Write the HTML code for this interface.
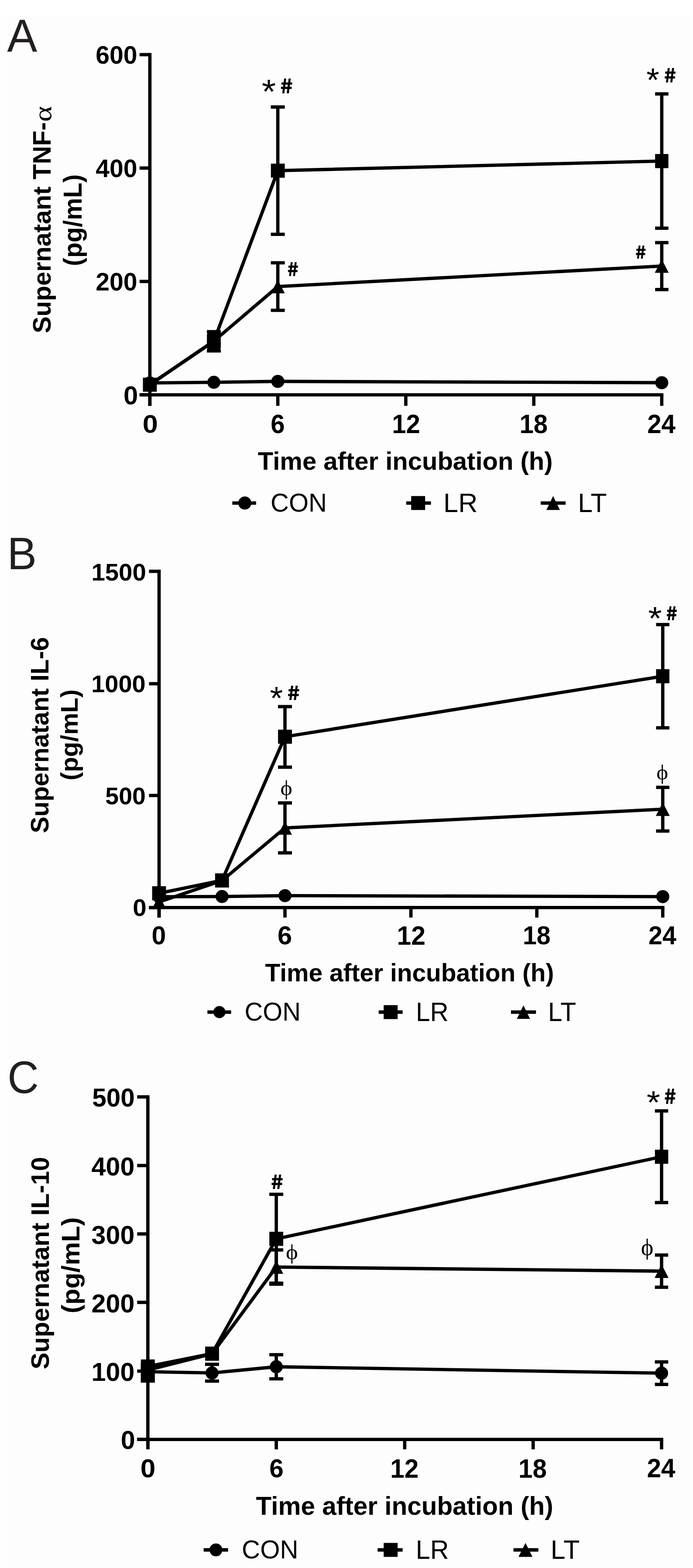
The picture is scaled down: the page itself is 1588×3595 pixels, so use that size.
<!DOCTYPE html>
<html><head><meta charset="utf-8"><title>Figure</title>
<style>html,body{margin:0;padding:0;background:#fff;}svg{display:block;}</style>
</head><body>
<svg width="1588" height="3595" viewBox="0 0 1588 3595">
<rect x="0" y="0" width="1588" height="3595" fill="#ffffff"/>
<rect x="16" y="36" width="1570" height="3559" fill="#fdfdfd"/>
<g stroke="#000" fill="#000" stroke-linecap="butt">
<line x1="343.4" y1="121.5" x2="343.4" y2="930.5" stroke-width="7.6"/>
<line x1="319.8" y1="125.3" x2="343.4" y2="125.3" stroke-width="7.6"/>
<line x1="319.8" y1="385.3" x2="343.4" y2="385.3" stroke-width="7.6"/>
<line x1="319.8" y1="645.3" x2="343.4" y2="645.3" stroke-width="7.6"/>
<line x1="319.8" y1="905.3" x2="343.4" y2="905.3" stroke-width="7.6"/>
<line x1="319.8" y1="905.3" x2="1520.2" y2="905.3" stroke-width="7.6"/>
<line x1="343.4" y1="905.3" x2="343.4" y2="930.5" stroke-width="7.6"/>
<line x1="636.6" y1="905.3" x2="636.6" y2="930.5" stroke-width="7.6"/>
<line x1="929.9" y1="905.3" x2="929.9" y2="930.5" stroke-width="7.6"/>
<line x1="1223.2" y1="905.3" x2="1223.2" y2="930.5" stroke-width="7.6"/>
<line x1="1516.4" y1="905.3" x2="1516.4" y2="930.5" stroke-width="7.6"/>
<polyline points="343.4,878.0 490.0,876.5 636.6,874.4 1516.4,877.4" fill="none" stroke-width="7.6" stroke-linejoin="miter"/>
<circle cx="343.4" cy="878.0" r="15.0" stroke="none"/>
<circle cx="490.0" cy="876.5" r="15.0" stroke="none"/>
<circle cx="636.6" cy="874.4" r="15.0" stroke="none"/>
<circle cx="1516.4" cy="877.4" r="15.0" stroke="none"/>
<polyline points="343.4,882.0 490.0,782.0 636.6,657.0 1516.4,610.0" fill="none" stroke-width="7.6" stroke-linejoin="miter"/>
<line x1="636.6" y1="602.5" x2="636.6" y2="711.5" stroke-width="7.6"/>
<line x1="620.6" y1="602.5" x2="652.6" y2="602.5" stroke-width="7.6"/>
<line x1="620.6" y1="711.5" x2="652.6" y2="711.5" stroke-width="7.6"/>
<line x1="1516.4" y1="556.3" x2="1516.4" y2="663.9" stroke-width="7.6"/>
<line x1="1501.2" y1="556.3" x2="1531.7" y2="556.3" stroke-width="7.6"/>
<line x1="1501.2" y1="663.9" x2="1531.7" y2="663.9" stroke-width="7.6"/>
<polygon points="343.4,866.5 359.4,897.5 327.4,897.5" stroke="none"/>
<polygon points="490.0,766.5 506.0,797.5 474.0,797.5" stroke="none"/>
<polygon points="636.6,641.5 652.6,672.5 620.6,672.5" stroke="none"/>
<polygon points="1516.4,594.5 1532.4,625.5 1500.4,625.5" stroke="none"/>
<polyline points="343.4,882.0 490.0,782.5 636.6,391.3 1516.4,369.3" fill="none" stroke-width="7.6" stroke-linejoin="miter"/>
<line x1="490.0" y1="760.5" x2="490.0" y2="804.5" stroke-width="7.6"/>
<line x1="474.0" y1="760.5" x2="506.0" y2="760.5" stroke-width="7.6"/>
<line x1="474.0" y1="804.5" x2="506.0" y2="804.5" stroke-width="7.6"/>
<line x1="636.6" y1="245.4" x2="636.6" y2="537.2" stroke-width="7.6"/>
<line x1="620.6" y1="245.4" x2="652.6" y2="245.4" stroke-width="7.6"/>
<line x1="620.6" y1="537.2" x2="652.6" y2="537.2" stroke-width="7.6"/>
<line x1="1516.4" y1="215.3" x2="1516.4" y2="523.2" stroke-width="7.6"/>
<line x1="1501.2" y1="215.3" x2="1531.7" y2="215.3" stroke-width="7.6"/>
<line x1="1501.2" y1="523.2" x2="1531.7" y2="523.2" stroke-width="7.6"/>
<rect x="327.50" y="865.85" width="31.8" height="32.3" stroke="none"/>
<rect x="474.12" y="766.35" width="31.8" height="32.3" stroke="none"/>
<rect x="620.75" y="375.15" width="31.8" height="32.3" stroke="none"/>
<rect x="1501.15" y="353.15" width="30.5" height="32.3" stroke="none"/>
<rect x="475" y="757" width="30" height="51" stroke="none"/>
<line x1="532.3" y1="1153.3" x2="586.9" y2="1153.3" stroke-width="7.8"/>
<circle cx="561.0" cy="1153.3" r="15.0" stroke="none"/>
<line x1="930.9" y1="1153.3" x2="987.5" y2="1153.3" stroke-width="7.8"/>
<rect x="942.20" y="1137.30" width="32" height="32" stroke="none"/>
<line x1="1239.0" y1="1153.3" x2="1296.1" y2="1153.3" stroke-width="7.8"/>
<polygon points="1267.5,1137.3 1283.0,1169.3 1252.0,1169.3" stroke="none"/>
<line x1="364.5" y1="1306.1" x2="364.5" y2="2103.7" stroke-width="7.6"/>
<line x1="341.5" y1="1309.9" x2="364.5" y2="1309.9" stroke-width="7.6"/>
<line x1="341.5" y1="1567.6" x2="364.5" y2="1567.6" stroke-width="7.6"/>
<line x1="341.5" y1="1823.8" x2="364.5" y2="1823.8" stroke-width="7.6"/>
<line x1="341.5" y1="2080.8" x2="364.5" y2="2080.8" stroke-width="7.6"/>
<line x1="341.5" y1="2080.8" x2="1522.5" y2="2080.8" stroke-width="7.6"/>
<line x1="364.5" y1="2080.8" x2="364.5" y2="2103.7" stroke-width="7.6"/>
<line x1="653.0" y1="2080.8" x2="653.0" y2="2103.7" stroke-width="7.6"/>
<line x1="941.6" y1="2080.8" x2="941.6" y2="2103.7" stroke-width="7.6"/>
<line x1="1230.1" y1="2080.8" x2="1230.1" y2="2103.7" stroke-width="7.6"/>
<line x1="1518.7" y1="2080.8" x2="1518.7" y2="2103.7" stroke-width="7.6"/>
<polyline points="364.5,2056.0 508.8,2055.5 653.0,2053.5 1518.7,2055.7" fill="none" stroke-width="7.6" stroke-linejoin="miter"/>
<circle cx="364.5" cy="2056.0" r="15.0" stroke="none"/>
<circle cx="508.8" cy="2055.5" r="15.0" stroke="none"/>
<circle cx="653.0" cy="2053.5" r="15.0" stroke="none"/>
<circle cx="1518.7" cy="2055.7" r="15.0" stroke="none"/>
<polyline points="364.5,2068.0 508.8,2019.0 653.0,1898.2 1518.7,1855.3" fill="none" stroke-width="7.6" stroke-linejoin="miter"/>
<line x1="653.0" y1="1840.9" x2="653.0" y2="1955.4" stroke-width="7.6"/>
<line x1="637.0" y1="1840.9" x2="669.0" y2="1840.9" stroke-width="7.6"/>
<line x1="637.0" y1="1955.4" x2="669.0" y2="1955.4" stroke-width="7.6"/>
<line x1="1518.7" y1="1805.2" x2="1518.7" y2="1905.3" stroke-width="7.6"/>
<line x1="1503.4" y1="1805.2" x2="1533.9" y2="1805.2" stroke-width="7.6"/>
<line x1="1503.4" y1="1905.3" x2="1533.9" y2="1905.3" stroke-width="7.6"/>
<polygon points="364.5,2052.5 380.5,2083.5 348.5,2083.5" stroke="none"/>
<polygon points="508.8,2003.5 524.8,2034.5 492.8,2034.5" stroke="none"/>
<polygon points="653.0,1882.7 669.0,1913.7 637.0,1913.7" stroke="none"/>
<polygon points="1518.7,1839.8 1534.7,1870.8 1502.7,1870.8" stroke="none"/>
<polyline points="364.5,2048.0 508.8,2018.5 653.0,1689.1 1518.7,1550.4" fill="none" stroke-width="7.6" stroke-linejoin="miter"/>
<line x1="653.0" y1="1620.1" x2="653.0" y2="1758.9" stroke-width="7.6"/>
<line x1="637.0" y1="1620.1" x2="669.0" y2="1620.1" stroke-width="7.6"/>
<line x1="637.0" y1="1758.9" x2="669.0" y2="1758.9" stroke-width="7.6"/>
<line x1="1518.7" y1="1432.0" x2="1518.7" y2="1668.7" stroke-width="7.6"/>
<line x1="1503.4" y1="1432.0" x2="1533.9" y2="1432.0" stroke-width="7.6"/>
<line x1="1503.4" y1="1668.7" x2="1533.9" y2="1668.7" stroke-width="7.6"/>
<rect x="348.60" y="2031.85" width="31.8" height="32.3" stroke="none"/>
<rect x="492.87" y="2002.35" width="31.8" height="32.3" stroke="none"/>
<rect x="637.14" y="1672.95" width="31.8" height="32.3" stroke="none"/>
<rect x="1503.41" y="1534.25" width="30.5" height="32.3" stroke="none"/>
<line x1="475.3" y1="2320.5" x2="529.6" y2="2320.5" stroke-width="7.8"/>
<circle cx="502.8" cy="2320.5" r="13.9" stroke="none"/>
<line x1="867.7" y1="2320.5" x2="922.6" y2="2320.5" stroke-width="7.8"/>
<rect x="879.20" y="2304.50" width="32" height="32" stroke="none"/>
<line x1="1170.9" y1="2320.5" x2="1228.2" y2="2320.5" stroke-width="7.8"/>
<polygon points="1199.5,2305.0 1214.6,2336.0 1184.4,2336.0" stroke="none"/>
<line x1="338.8" y1="2511.1" x2="338.8" y2="3323.0" stroke-width="7.6"/>
<line x1="314.3" y1="2514.9" x2="338.8" y2="2514.9" stroke-width="7.6"/>
<line x1="314.3" y1="2672.3" x2="338.8" y2="2672.3" stroke-width="7.6"/>
<line x1="314.3" y1="2829.1" x2="338.8" y2="2829.1" stroke-width="7.6"/>
<line x1="314.3" y1="2986.0" x2="338.8" y2="2986.0" stroke-width="7.6"/>
<line x1="314.3" y1="3143.6" x2="338.8" y2="3143.6" stroke-width="7.6"/>
<line x1="314.3" y1="3300.2" x2="338.8" y2="3300.2" stroke-width="7.6"/>
<line x1="314.3" y1="3300.2" x2="1519.8" y2="3300.2" stroke-width="7.6"/>
<line x1="338.8" y1="3300.2" x2="338.8" y2="3323.0" stroke-width="7.6"/>
<line x1="633.1" y1="3300.2" x2="633.1" y2="3323.0" stroke-width="7.6"/>
<line x1="927.4" y1="3300.2" x2="927.4" y2="3323.0" stroke-width="7.6"/>
<line x1="1221.7" y1="3300.2" x2="1221.7" y2="3323.0" stroke-width="7.6"/>
<line x1="1516.0" y1="3300.2" x2="1516.0" y2="3323.0" stroke-width="7.6"/>
<polyline points="338.8,3145.0 485.9,3147.8 633.1,3133.6 1516.0,3148.3" fill="none" stroke-width="7.6" stroke-linejoin="miter"/>
<line x1="485.9" y1="3128.0" x2="485.9" y2="3166.5" stroke-width="7.6"/>
<line x1="469.9" y1="3128.0" x2="501.9" y2="3128.0" stroke-width="7.6"/>
<line x1="469.9" y1="3166.5" x2="501.9" y2="3166.5" stroke-width="7.6"/>
<line x1="633.1" y1="3106.0" x2="633.1" y2="3161.2" stroke-width="7.6"/>
<line x1="617.1" y1="3106.0" x2="649.1" y2="3106.0" stroke-width="7.6"/>
<line x1="617.1" y1="3161.2" x2="649.1" y2="3161.2" stroke-width="7.6"/>
<line x1="1516.0" y1="3122.5" x2="1516.0" y2="3174.1" stroke-width="7.6"/>
<line x1="1500.7" y1="3122.5" x2="1531.2" y2="3122.5" stroke-width="7.6"/>
<line x1="1500.7" y1="3174.1" x2="1531.2" y2="3174.1" stroke-width="7.6"/>
<circle cx="338.8" cy="3145.0" r="15.0" stroke="none"/>
<circle cx="485.9" cy="3147.8" r="15.0" stroke="none"/>
<circle cx="633.1" cy="3133.6" r="15.0" stroke="none"/>
<circle cx="1516.0" cy="3148.3" r="15.0" stroke="none"/>
<polyline points="338.8,3141.0 485.9,3104.0 633.1,2905.0 1516.0,2914.4" fill="none" stroke-width="7.6" stroke-linejoin="miter"/>
<line x1="633.1" y1="2865.7" x2="633.1" y2="2944.2" stroke-width="7.6"/>
<line x1="617.1" y1="2865.7" x2="649.1" y2="2865.7" stroke-width="7.6"/>
<line x1="617.1" y1="2944.2" x2="649.1" y2="2944.2" stroke-width="7.6"/>
<line x1="1516.0" y1="2877.5" x2="1516.0" y2="2951.3" stroke-width="7.6"/>
<line x1="1500.7" y1="2877.5" x2="1531.2" y2="2877.5" stroke-width="7.6"/>
<line x1="1500.7" y1="2951.3" x2="1531.2" y2="2951.3" stroke-width="7.6"/>
<polygon points="338.8,3125.5 354.8,3156.5 322.8,3156.5" stroke="none"/>
<polygon points="485.9,3088.5 501.9,3119.5 469.9,3119.5" stroke="none"/>
<polygon points="633.1,2889.5 649.1,2920.5 617.1,2920.5" stroke="none"/>
<polygon points="1516.0,2898.9 1532.0,2929.9 1500.0,2929.9" stroke="none"/>
<polyline points="338.8,3133.0 485.9,3103.5 633.1,2840.3 1516.0,2652.1" fill="none" stroke-width="7.6" stroke-linejoin="miter"/>
<line x1="633.1" y1="2738.2" x2="633.1" y2="2942.0" stroke-width="7.6"/>
<line x1="617.1" y1="2738.2" x2="649.1" y2="2738.2" stroke-width="7.6"/>
<line x1="617.1" y1="2942.0" x2="649.1" y2="2942.0" stroke-width="7.6"/>
<line x1="1516.0" y1="2547.0" x2="1516.0" y2="2757.2" stroke-width="7.6"/>
<line x1="1500.7" y1="2547.0" x2="1531.2" y2="2547.0" stroke-width="7.6"/>
<line x1="1500.7" y1="2757.2" x2="1531.2" y2="2757.2" stroke-width="7.6"/>
<rect x="322.90" y="3116.85" width="31.8" height="32.3" stroke="none"/>
<rect x="470.05" y="3087.35" width="31.8" height="32.3" stroke="none"/>
<rect x="617.20" y="2824.15" width="31.8" height="32.3" stroke="none"/>
<rect x="1500.75" y="2635.95" width="30.5" height="32.3" stroke="none"/>
<rect x="322.6" y="3124.1" width="32.2" height="46" stroke="none"/>
<line x1="466.7" y1="3553.5" x2="522.6" y2="3553.5" stroke-width="7.8"/>
<circle cx="494.8" cy="3553.5" r="14.8" stroke="none"/>
<line x1="865.3" y1="3553.5" x2="922.6" y2="3553.5" stroke-width="7.8"/>
<rect x="879.20" y="3537.50" width="32" height="32" stroke="none"/>
<line x1="1176.6" y1="3553.5" x2="1233.7" y2="3553.5" stroke-width="7.8"/>
<polygon points="1204.1,3537.5 1220.1,3569.5 1188.1,3569.5" stroke="none"/>
</g>
<text transform="translate(16.30,118.10) scale(1.0239,1.0551)" font-size="101" font-weight="normal" font-family='"Liberation Sans", Arial, sans-serif' fill="#231f20" >A</text>
<text transform="translate(16.60,1304.90) scale(1.0245,1.0471)" font-size="99" font-weight="normal" font-family='"Liberation Sans", Arial, sans-serif' fill="#231f20" >B</text>
<text transform="translate(17.19,2505.97) scale(0.9813,1.0282)" font-size="101" font-weight="normal" font-family='"Liberation Sans", Arial, sans-serif' fill="#231f20" >C</text>
<text transform="translate(219.26,146.43) scale(0.9691,0.9744)" font-size="59" font-weight="bold" font-family='"Liberation Sans", Arial, sans-serif' fill="#000" >600</text>
<text transform="translate(219.26,406.43) scale(0.9691,0.9744)" font-size="59" font-weight="bold" font-family='"Liberation Sans", Arial, sans-serif' fill="#000" >400</text>
<text transform="translate(219.26,666.43) scale(0.9691,0.9744)" font-size="59" font-weight="bold" font-family='"Liberation Sans", Arial, sans-serif' fill="#000" >200</text>
<text transform="translate(282.97,927.01) scale(1.0143,0.9884)" font-size="59" font-weight="bold" font-family='"Liberation Sans", Arial, sans-serif' fill="#000" >0</text>
<text transform="translate(326.86,991.74) scale(1.0714,0.9581)" font-size="59" font-weight="bold" font-family='"Liberation Sans", Arial, sans-serif' fill="#000" >0</text>
<text transform="translate(620.14,992.70) scale(0.9857,1.0238)" font-size="59" font-weight="bold" font-family='"Liberation Sans", Arial, sans-serif' fill="#000" >6</text>
<text transform="translate(898.23,992.70) scale(0.9857,1.0238)" font-size="59" font-weight="bold" font-family='"Liberation Sans", Arial, sans-serif' fill="#000" >12</text>
<text transform="translate(1190.49,992.70) scale(0.9857,1.0238)" font-size="59" font-weight="bold" font-family='"Liberation Sans", Arial, sans-serif' fill="#000" >18</text>
<text transform="translate(1483.13,992.70) scale(0.9857,1.0238)" font-size="59" font-weight="bold" font-family='"Liberation Sans", Arial, sans-serif' fill="#000" >24</text>
<text transform="translate(590.82,1077.15) scale(0.9835,0.9873)" font-size="59" font-weight="bold" font-family='"Liberation Sans", Arial, sans-serif' fill="#000" >Time after incubation (h)</text>
<text transform="translate(620.00,1173.00) scale(0.9680,1.0023)" font-size="60" font-weight="normal" font-family='"Liberation Sans", Arial, sans-serif' fill="#000" >CON</text>
<text transform="translate(1016.10,1174.00) scale(1.0203,1.0244)" font-size="60" font-weight="normal" font-family='"Liberation Sans", Arial, sans-serif' fill="#000" >LR</text>
<text transform="translate(1324.24,1174.00) scale(1.0119,1.0244)" font-size="60" font-weight="normal" font-family='"Liberation Sans", Arial, sans-serif' fill="#000" >LT</text>
<text transform="translate(116.43,764.02) rotate(-90) scale(1.0122,1.0057)" font-size="57" font-weight="bold" font-family='"Liberation Sans", Arial, sans-serif' fill="#000" >Supernatant TNF-</text>
<text transform="translate(116.69,279.32) rotate(-90) scale(1.2111,1.0148)" font-size="57" font-weight="normal" font-family='"Liberation Serif", "Times New Roman", serif' fill="#000" >α</text>
<text transform="translate(186.71,610.02) rotate(-90) scale(1.0069,1.0241)" font-size="57" font-weight="bold" font-family='"Liberation Sans", Arial, sans-serif' fill="#000" >(pg/mL)</text>
<text transform="translate(209.38,1330.85) scale(0.9560,0.9512)" font-size="59" font-weight="bold" font-family='"Liberation Sans", Arial, sans-serif' fill="#000" >1500</text>
<text transform="translate(209.21,1587.37) scale(0.9480,0.9302)" font-size="59" font-weight="bold" font-family='"Liberation Sans", Arial, sans-serif' fill="#000" >1000</text>
<text transform="translate(241.32,1844.45) scale(0.9394,0.9512)" font-size="59" font-weight="bold" font-family='"Liberation Sans", Arial, sans-serif' fill="#000" >500</text>
<text transform="translate(304.29,2099.57) scale(0.9571,0.9279)" font-size="59" font-weight="bold" font-family='"Liberation Sans", Arial, sans-serif' fill="#000" >0</text>
<text transform="translate(347.40,2164.80) scale(1.0000,1.0023)" font-size="59" font-weight="bold" font-family='"Liberation Sans", Arial, sans-serif' fill="#000" >0</text>
<text transform="translate(635.88,2164.80) scale(1.0103,1.0023)" font-size="59" font-weight="bold" font-family='"Liberation Sans", Arial, sans-serif' fill="#000" >6</text>
<text transform="translate(909.41,2165.80) scale(0.9983,1.0262)" font-size="59" font-weight="bold" font-family='"Liberation Sans", Arial, sans-serif' fill="#000" >12</text>
<text transform="translate(1198.02,2164.80) scale(0.9700,1.0023)" font-size="59" font-weight="bold" font-family='"Liberation Sans", Arial, sans-serif' fill="#000" >18</text>
<text transform="translate(1486.11,2164.80) scale(0.9700,1.0023)" font-size="59" font-weight="bold" font-family='"Liberation Sans", Arial, sans-serif' fill="#000" >24</text>
<text transform="translate(607.54,2249.86) scale(0.9633,0.9618)" font-size="59" font-weight="bold" font-family='"Liberation Sans", Arial, sans-serif' fill="#000" >Time after incubation (h)</text>
<text transform="translate(560.41,2339.91) scale(0.9648,0.9907)" font-size="60" font-weight="normal" font-family='"Liberation Sans", Arial, sans-serif' fill="#000" >CON</text>
<text transform="translate(952.92,2340.90) scale(0.9768,1.0098)" font-size="60" font-weight="normal" font-family='"Liberation Sans", Arial, sans-serif' fill="#000" >LR</text>
<text transform="translate(1255.79,2340.90) scale(0.9814,1.0098)" font-size="60" font-weight="normal" font-family='"Liberation Sans", Arial, sans-serif' fill="#000" >LT</text>
<text transform="translate(110.51,1910.30) rotate(-90) scale(0.9998,1.0075)" font-size="57" font-weight="bold" font-family='"Liberation Sans", Arial, sans-serif' fill="#000" >Supernatant IL-6</text>
<text transform="translate(178.42,1789.20) rotate(-90) scale(0.9990,0.9815)" font-size="57" font-weight="bold" font-family='"Liberation Sans", Arial, sans-serif' fill="#000" >(pg/mL)</text>
<text transform="translate(211.22,2536.99) scale(0.9904,1.0140)" font-size="59" font-weight="bold" font-family='"Liberation Sans", Arial, sans-serif' fill="#000" >500</text>
<text transform="translate(209.60,2695.00) scale(1.0032,1.0023)" font-size="59" font-weight="bold" font-family='"Liberation Sans", Arial, sans-serif' fill="#000" >400</text>
<text transform="translate(209.60,2851.80) scale(1.0032,1.0023)" font-size="59" font-weight="bold" font-family='"Liberation Sans", Arial, sans-serif' fill="#000" >300</text>
<text transform="translate(209.60,3008.70) scale(1.0032,1.0023)" font-size="59" font-weight="bold" font-family='"Liberation Sans", Arial, sans-serif' fill="#000" >200</text>
<text transform="translate(209.60,3166.30) scale(1.0032,1.0023)" font-size="59" font-weight="bold" font-family='"Liberation Sans", Arial, sans-serif' fill="#000" >100</text>
<text transform="translate(276.69,3322.00) scale(1.0036,1.0000)" font-size="59" font-weight="bold" font-family='"Liberation Sans", Arial, sans-serif' fill="#000" >0</text>
<text transform="translate(321.79,3387.00) scale(1.0536,1.0047)" font-size="59" font-weight="bold" font-family='"Liberation Sans", Arial, sans-serif' fill="#000" >0</text>
<text transform="translate(617.21,3387.00) scale(0.9931,1.0047)" font-size="59" font-weight="bold" font-family='"Liberation Sans", Arial, sans-serif' fill="#000" >6</text>
<text transform="translate(894.22,3387.50) scale(0.9905,1.0214)" font-size="59" font-weight="bold" font-family='"Liberation Sans", Arial, sans-serif' fill="#000" >12</text>
<text transform="translate(1188.02,3387.50) scale(0.9905,1.0214)" font-size="59" font-weight="bold" font-family='"Liberation Sans", Arial, sans-serif' fill="#000" >18</text>
<text transform="translate(1482.62,3387.30) scale(0.9905,1.0214)" font-size="59" font-weight="bold" font-family='"Liberation Sans", Arial, sans-serif' fill="#000" >24</text>
<text transform="translate(586.61,3472.97) scale(0.9911,0.9945)" font-size="59" font-weight="bold" font-family='"Liberation Sans", Arial, sans-serif' fill="#000" >Time after incubation (h)</text>
<text transform="translate(554.09,3572.82) scale(0.9704,0.9837)" font-size="60" font-weight="normal" font-family='"Liberation Sans", Arial, sans-serif' fill="#000" >CON</text>
<text transform="translate(952.86,3573.80) scale(0.9884,1.0195)" font-size="60" font-weight="normal" font-family='"Liberation Sans", Arial, sans-serif' fill="#000" >LR</text>
<text transform="translate(1261.83,3573.80) scale(1.0136,1.0195)" font-size="60" font-weight="normal" font-family='"Liberation Sans", Arial, sans-serif' fill="#000" >LT</text>
<text transform="translate(111.85,3139.42) rotate(-90) scale(1.0111,1.0038)" font-size="57" font-weight="bold" font-family='"Liberation Sans", Arial, sans-serif' fill="#000" >Supernatant IL-10</text>
<text transform="translate(181.90,3011.16) rotate(-90) scale(1.0547,1.0167)" font-size="57" font-weight="bold" font-family='"Liberation Sans", Arial, sans-serif' fill="#000" >(pg/mL)</text>
<text transform="translate(599.71,236.96) scale(1.0926,1.0185)" font-size="76" font-weight="normal" font-family='"Liberation Sans", Arial, sans-serif' fill="#000" >*</text>
<text transform="translate(641.92,214.30) scale(1.0417,0.9794)" font-size="46" font-weight="900" font-family='"Noto Sans CJK JP", "Liberation Sans", sans-serif' fill="#000" >#</text>
<text transform="translate(658.25,633.10) scale(0.9250,0.9324)" font-size="46" font-weight="900" font-family='"Noto Sans CJK JP", "Liberation Sans", sans-serif' fill="#000" >#</text>
<text transform="translate(1481.20,208.70) scale(1.0000,1.0000)" font-size="76" font-weight="normal" font-family='"Liberation Sans", Arial, sans-serif' fill="#000" >*</text>
<text transform="translate(1521.51,189.00) scale(0.9958,0.9588)" font-size="46" font-weight="900" font-family='"Noto Sans CJK JP", "Liberation Sans", sans-serif' fill="#000" >#</text>
<text transform="translate(1455.82,593.30) scale(0.8917,0.8882)" font-size="46" font-weight="900" font-family='"Noto Sans CJK JP", "Liberation Sans", sans-serif' fill="#000" >#</text>
<text transform="translate(618.49,1625.77) scale(1.0074,0.9667)" font-size="76" font-weight="normal" font-family='"Liberation Sans", Arial, sans-serif' fill="#000" >*</text>
<text transform="translate(658.22,1604.80) scale(1.0375,0.9735)" font-size="46" font-weight="900" font-family='"Noto Sans CJK JP", "Liberation Sans", sans-serif' fill="#000" >#</text>
<text transform="translate(642.42,1823.04) scale(1.0391,0.9872)" font-size="50" font-weight="normal" font-family='"Liberation Serif", "Times New Roman", serif' fill="#000" >ϕ</text>
<text transform="translate(1485.14,1443.24) scale(1.0593,0.9778)" font-size="76" font-weight="normal" font-family='"Liberation Sans", Arial, sans-serif' fill="#000" >*</text>
<text transform="translate(1526.34,1421.60) scale(0.9292,0.9471)" font-size="46" font-weight="900" font-family='"Noto Sans CJK JP", "Liberation Sans", sans-serif' fill="#000" >#</text>
<text transform="translate(1504.27,1787.21) scale(1.0174,0.9809)" font-size="50" font-weight="normal" font-family='"Liberation Serif", "Times New Roman", serif' fill="#000" >ϕ</text>
<text transform="translate(620.45,2726.10) scale(1.0250,0.9676)" font-size="46" font-weight="900" font-family='"Noto Sans CJK JP", "Liberation Sans", sans-serif' fill="#000" >#</text>
<text transform="translate(654.99,2887.19) scale(1.0565,0.9915)" font-size="50" font-weight="normal" font-family='"Liberation Serif", "Times New Roman", serif' fill="#000" >ϕ</text>
<text transform="translate(1481.64,2553.13) scale(1.0556,0.9852)" font-size="76" font-weight="normal" font-family='"Liberation Sans", Arial, sans-serif' fill="#000" >*</text>
<text transform="translate(1521.83,2531.40) scale(0.9875,1.0088)" font-size="46" font-weight="900" font-family='"Noto Sans CJK JP", "Liberation Sans", sans-serif' fill="#000" >#</text>
<text transform="translate(1468.83,2877.48) scale(1.0870,1.0383)" font-size="50" font-weight="normal" font-family='"Liberation Serif", "Times New Roman", serif' fill="#000" >ϕ</text>
</svg>
</body></html>
